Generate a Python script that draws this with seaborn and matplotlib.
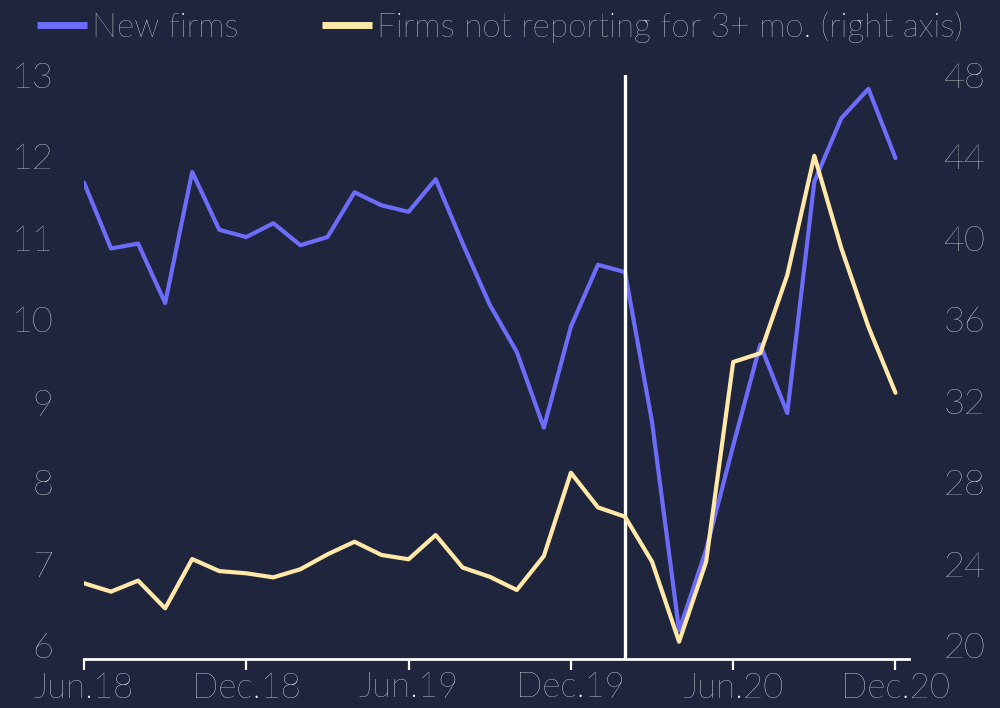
import pandas as pd
import seaborn as sns
import matplotlib.pyplot as plt

# monthly data, Jun.18 .. Dec.20
months = pd.date_range("2018-06-01", periods=31, freq="MS").strftime("%b.%y").tolist()
new_firms = [11.68, 10.87, 10.93, 10.20, 11.81, 11.10, 11.01, 11.18, 10.91, 11.01,
             11.56, 11.40, 11.32, 11.72, 10.93, 10.18, 9.60, 8.67, 9.91, 10.67,
             10.58, 8.74, 6.18, 7.17, 8.45, 9.69, 8.85, 11.69, 12.47, 12.83, 11.98]
not_reporting = [23.03, 22.62, 23.16, 21.80, 24.22, 23.63, 23.52, 23.32, 23.72, 24.45,
                 25.07, 24.42, 24.21, 25.40, 23.80, 23.35, 22.70, 24.37, 28.46, 26.76,
                 26.30, 24.09, 20.16, 24.09, 33.90, 34.33, 38.17, 44.03, 39.48, 35.63, 32.39]
tick_labels = ["Jun.18", "Dec.18", "Jun.19", "Dec.19", "Jun.20", "Dec.20"]
marker_month = "Feb.20"

bg = "#1f253d"
blue = "#6c6cf8"
yellow = "#ffe8a8"

sns.set_theme(style="dark")
plt.rcParams["font.family"] = ["Lato", "DejaVu Sans"]
plt.rcParams["font.weight"] = "light"

df = pd.DataFrame({"pos": range(len(months)), "month": months,
                   "new": new_firms, "nr": not_reporting})

fig = plt.figure(figsize=(10, 7.08), dpi=100, facecolor=bg)
ax = fig.add_axes([0.084, 0.0692, 0.825, 0.8249], facecolor=bg)
ax2 = ax.twinx()

sns.lineplot(data=df, x="pos", y="new", ax=ax, color=blue, lw=3, label="New firms", legend=False)
sns.lineplot(data=df, x="pos", y="nr", ax=ax2, color=yellow, lw=3,
             label="Firms not reporting for 3+ mo. (right axis)", legend=False)

ax.axvline(months.index(marker_month), color="white", lw=2.4)

ax.set_xlim(0, 30.5)
ax.set_ylim(5.83, 13)
ax2.set_ylim(19.31, 48)
ax.set_yticks(range(6, 14))
ax2.set_yticks(range(20, 49, 4))
ax.set_xticks([months.index(t) for t in tick_labels])
ax.set_xticklabels(tick_labels)

for a in (ax, ax2):
    a.set_xlabel("")
    a.set_ylabel("")
    a.grid(False)
    for s in a.spines.values():
        s.set_visible(False)
    a.tick_params(axis="y", length=0, labelsize=26, labelcolor="white")
ax2.patch.set_alpha(0)

ax.spines["bottom"].set_visible(True)
ax.spines["bottom"].set_color("white")
ax.spines["bottom"].set_linewidth(2)
ax.tick_params(axis="x", bottom=True, length=8, width=1.6, color="white",
               labelsize=25, labelcolor="white", pad=1)
ax.tick_params(axis="y", pad=22)
ax2.tick_params(axis="y", pad=25)

h1, l1 = ax.get_legend_handles_labels()
h2, l2 = ax2.get_legend_handles_labels()
leg = fig.legend(h1 + h2, l1 + l2, loc="upper left", bbox_to_anchor=(0.032, 0.991), ncol=2,
                 frameon=False, fontsize=24, handlelength=1.5, handletextpad=0.15,
                 columnspacing=2.5, labelcolor="white", borderpad=0.15, borderaxespad=0)
for ln in leg.get_lines():
    ln.set_linewidth(5)
    ln.set_solid_capstyle("butt")

fig.savefig("out.png", dpi=100, facecolor=bg)
